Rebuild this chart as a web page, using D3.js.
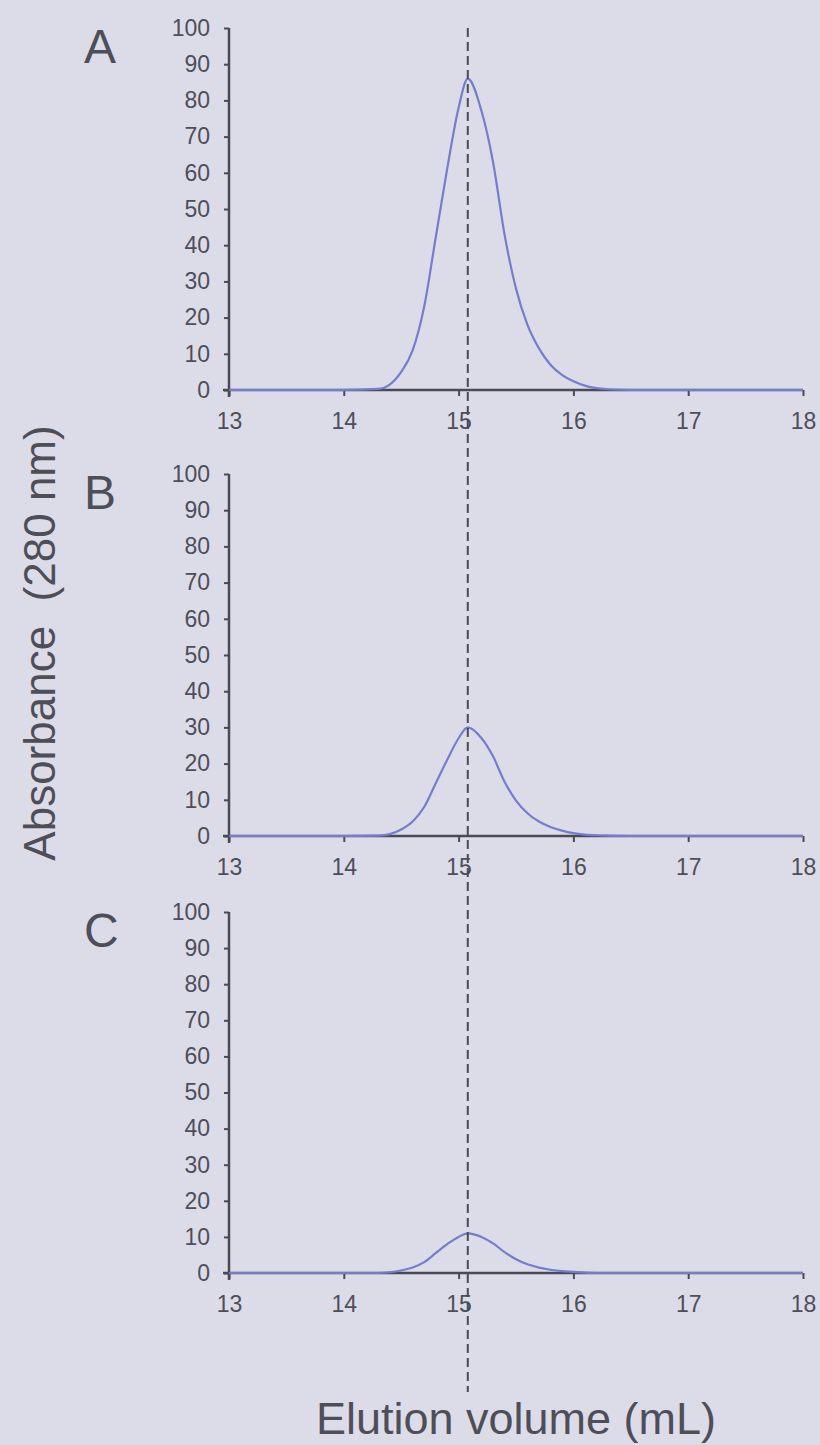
<!DOCTYPE html>
<html>
<head>
<meta charset="utf-8">
<script src="https://cdn.jsdelivr.net/npm/d3@7"></script>
<style>
  html, body { margin: 0; padding: 0; background: #dcdce8; }
  svg { display: block; }
  text { font-family: "Liberation Sans", Arial, sans-serif; fill: #4e4e58; }
</style>
</head>
<body>
<svg id="chart" width="820" height="1445"></svg>
<script>
// Elution volume (mL) sampled along each chromatogram
const volume = [13, 14, 14.3, 14.4, 14.5, 14.6, 14.7, 14.8, 14.9, 15.0, 15.08, 15.2, 15.3, 15.4, 15.5, 15.6, 15.7, 15.8, 15.9, 16.0, 16.1, 16.2, 16.3, 16.5, 17, 18];

// Absorbance at 280 nm for each run
const absorbanceA = [0, 0, 0.3, 1.5, 5, 11, 23, 42, 61, 78, 86, 77, 63, 43, 28, 18, 11.5, 7, 4.2, 2.4, 1.2, 0.5, 0.2, 0, 0, 0];
const absorbanceB = [0, 0, 0.1, 0.5, 1.8, 4, 8, 14.5, 21, 27, 30, 27, 22, 15, 9.8, 6.3, 4, 2.5, 1.5, 0.8, 0.4, 0.2, 0.1, 0, 0, 0];
const absorbanceC = [0, 0, 0, 0.2, 0.7, 1.5, 3, 5.5, 8, 10, 11, 10, 8.2, 5.8, 3.8, 2.4, 1.5, 0.9, 0.5, 0.3, 0.1, 0, 0, 0, 0, 0];

const panelLabels = ["A", "B", "C"];
const xTicks = [13, 14, 15, 16, 17, 18];
const yTicks = [0, 10, 20, 30, 40, 50, 60, 70, 80, 90, 100];
const peakVolume = 15.08;   // reference elution volume marked across all panels

const svg = d3.select("#chart");
const axisColor = "#4a4a55";
const lineColor = "#767cce";
const fontFamily = '"Liberation Sans", Arial, sans-serif';

const x = d3.scaleLinear().domain([13, 18]).range([229, 803]);

const panels = [
  { label: panelLabels[0], values: absorbanceA, top: 28,  bottom: 390 },
  { label: panelLabels[1], values: absorbanceB, top: 474, bottom: 836 },
  { label: panelLabels[2], values: absorbanceC, top: 912, bottom: 1273 }
];

panels.forEach(p => {
  const y = d3.scaleLinear().domain([0, 100]).range([p.bottom, p.top]);
  const g = svg.append("g");

  // y axis
  const yAxis = d3.axisLeft(y).tickValues(yTicks).tickFormat(d3.format("d"))
    .tickSize(5).tickSizeOuter(0).tickPadding(14);
  const ya = g.append("g").attr("transform", `translate(${x(13)},0)`).call(yAxis);
  ya.select(".domain").attr("stroke", axisColor).attr("stroke-width", 2.5)
    .attr("d", `M0,${p.top}V${p.bottom + 7}`);
  ya.selectAll(".tick line").attr("stroke", axisColor).attr("stroke-width", 2);
  ya.selectAll(".tick text").attr("font-size", 23).attr("fill", "#4e4e58")
    .style("font-family", fontFamily);

  // x axis
  const xAxis = d3.axisBottom(x).tickValues(xTicks).tickFormat(d3.format("d"))
    .tickSize(6).tickSizeOuter(0).tickPadding(17);
  const xa = g.append("g").attr("transform", `translate(0,${p.bottom})`).call(xAxis);
  xa.select(".domain").attr("stroke", axisColor).attr("stroke-width", 2.5)
    .attr("d", `M${x(13) - 6},0H${x(18)}`);
  xa.selectAll(".tick line").attr("stroke", axisColor).attr("stroke-width", 2);
  xa.selectAll(".tick text").attr("font-size", 23).attr("fill", "#4e4e58")
    .style("font-family", fontFamily);

  // chromatogram trace
  const line = d3.line()
    .x((d, i) => x(volume[i]))
    .y(d => y(d))
    .curve(d3.curveMonotoneX);
  g.append("path")
    .datum(p.values)
    .attr("fill", "none")
    .attr("stroke", lineColor)
    .attr("stroke-width", 2.2)
    .attr("d", line);

  // panel letter
  g.append("text")
    .attr("x", 84).attr("y", p.top + 35)
    .attr("font-size", 48)
    .text(p.label);
});

// dashed marker line through all panels
svg.append("line")
  .attr("x1", x(peakVolume)).attr("x2", x(peakVolume))
  .attr("y1", 28).attr("y2", 1392)
  .attr("stroke", "#4a4a55")
  .attr("stroke-width", 2)
  .attr("stroke-dasharray", "9,5");

// axis titles
svg.append("text")
  .attr("transform", "translate(55,643) rotate(-90)")
  .attr("text-anchor", "middle")
  .attr("font-size", 44)
  .style("white-space", "pre")
  .text("Absorbance  (280 nm)");

svg.append("text")
  .attr("x", 516).attr("y", 1434)
  .attr("text-anchor", "middle")
  .attr("font-size", 45)
  .text("Elution volume (mL)");
</script>
</body>
</html>
